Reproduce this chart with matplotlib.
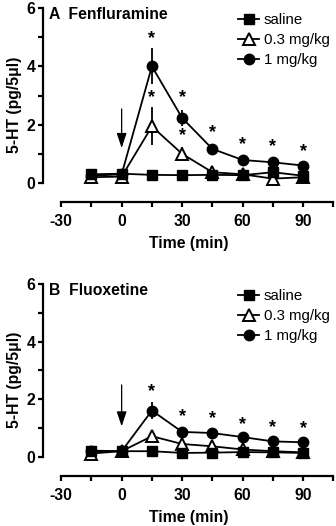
import matplotlib
matplotlib.use("Agg")
import matplotlib.pyplot as plt
from matplotlib.ticker import FixedLocator

plt.rcParams['font.family'] = ['Liberation Sans', 'DejaVu Sans']
plt.rcParams['axes.unicode_minus'] = False

time = [-15, 0, 15, 30, 45, 60, 75, 90]
labels = ["saline", "0.3 mg/kg", "1 mg/kg"]

# Panel A - Fenfluramine
a_saline = [0.30, 0.32, 0.28, 0.27, 0.28, 0.27, 0.37, 0.25]
a_low = [0.20, 0.22, 1.94, 1.00, 0.37, 0.30, 0.15, 0.20]
a_high = [0.25, 0.30, 4.00, 2.23, 1.17, 0.79, 0.71, 0.60]
a_low_err = [0, 0, 0.65, 0.22, 0, 0, 0, 0]
a_high_err = [0, 0, 0.62, 0.28, 0.15, 0, 0, 0]
a_star_x = [15, 15, 30, 30, 45, 60, 75, 90]
a_star_y = [4.95, 2.92, 2.92, 1.62, 1.72, 1.32, 1.24, 1.07]
a_arrow = (2.54, 1.2)

# Panel B - Fluoxetine
b_saline = [0.22, 0.20, 0.20, 0.14, 0.15, 0.17, 0.16, 0.14]
b_low = [0.12, 0.20, 0.72, 0.45, 0.37, 0.26, 0.20, 0.16]
b_high = [0.20, 0.20, 1.61, 0.87, 0.83, 0.69, 0.54, 0.51]
b_low_err = [0, 0, 0.1, 0, 0, 0, 0, 0]
b_high_err = [0, 0, 0.3, 0.05, 0.05, 0, 0, 0]
b_star_x = [15, 30, 45, 60, 75, 90]
b_star_y = [2.28, 1.40, 1.33, 1.12, 1.02, 1.00]
b_arrow = (2.5, 1.06)

W, H = 336, 526
fig = plt.figure(figsize=(W / 100, H / 100), dpi=100)

def make_axes(top_px, bottom_px):
    left_px = 43
    xmin, xmax = -39, 106
    width_px = (xmax - xmin) * (242 / 120)
    ax = fig.add_axes([left_px / W, 1 - bottom_px / H, width_px / W, (bottom_px - top_px) / H])
    ax.set_xlim(xmin, xmax)
    return ax

FS = 11.3

def draw(ax, title, sal, low, high, low_err, high_err, sx, sy, arrow, ybot):
    ax.set_ylim(ybot, 6)
    lw = 1.3
    ax.errorbar(time, high, yerr=high_err, fmt='none', ecolor='black', elinewidth=1.3,
                capsize=0, zorder=2)
    ax.errorbar(time, low, yerr=low_err, fmt='none', ecolor='black', elinewidth=1.3,
                capsize=0, zorder=2)
    h_high, = ax.plot(time, high, color='black', lw=lw, marker='o', ms=7.5,
                      mfc='black', mec='black', zorder=3)
    h_low, = ax.plot(time, low, color='black', lw=lw, marker='^', ms=8,
                     mfc='white', mec='black', mew=1.4, zorder=4)
    h_sal, = ax.plot(time, sal, color='black', lw=lw, marker='s', ms=7, mfc='black',
                     mec='black', zorder=5)
    for x, y in zip(sx, sy):
        ax.text(x, y, '*', ha='center', va='center', fontsize=13, fontweight='bold')
    ax.annotate('', xy=(0, arrow[1]), xytext=(0, arrow[0]),
                arrowprops=dict(arrowstyle='-|>,head_length=0.6,head_width=0.2',
                                color='black', lw=0.9,
                                mutation_scale=15, shrinkA=0, shrinkB=0))
    for s in ['top', 'right']:
        ax.spines[s].set_visible(False)
    ax.spines['left'].set_bounds(0, 6)
    ax.spines['bottom'].set_bounds(-30, 105)
    ax.spines['left'].set_linewidth(1.6)
    ax.spines['bottom'].set_linewidth(1.6)
    ax.yaxis.set_major_locator(FixedLocator([0, 2, 4, 6]))
    ax.yaxis.set_minor_locator(FixedLocator([1, 3, 5]))
    ax.xaxis.set_major_locator(FixedLocator([-30, 0, 30, 60, 90]))
    ax.xaxis.set_minor_locator(FixedLocator([-15, 15, 45, 75, 105]))
    ax.tick_params(which='both', length=3.5, width=1.6, direction='out')
    ax.tick_params(axis='y', labelsize=FS, pad=2)
    ax.tick_params(axis='x', labelsize=FS, pad=5)
    for t in ax.get_xticklabels() + ax.get_yticklabels():
        t.set_fontweight('bold')
    ax.set_xlabel('Time (min)', fontsize=FS, fontweight='bold', labelpad=5)
    ax.set_ylabel('5-HT (pg/5\u03bcl)', fontsize=FS, fontweight='bold', labelpad=3)
    ax.text(-36, 5.77, title, fontsize=FS, fontweight='bold', va='center', ha='left')
    ax.legend([h_sal, h_low, h_high], labels, loc='upper left',
              bbox_to_anchor=(0.648, 1.005), frameon=False, fontsize=10.8,
              handlelength=1.4, handletextpad=0.3, labelspacing=0.4, borderaxespad=0)

axA = make_axes(8, 202)
draw(axA, 'A  Fenfluramine', a_saline, a_low, a_high, a_low_err, a_high_err,
     a_star_x, a_star_y, a_arrow, -0.65)
axB = make_axes(284, 476)
draw(axB, 'B  Fluoxetine', b_saline, b_low, b_high, b_low_err, b_high_err,
     b_star_x, b_star_y, b_arrow, -0.66)

fig.savefig('out.png', dpi=100)
